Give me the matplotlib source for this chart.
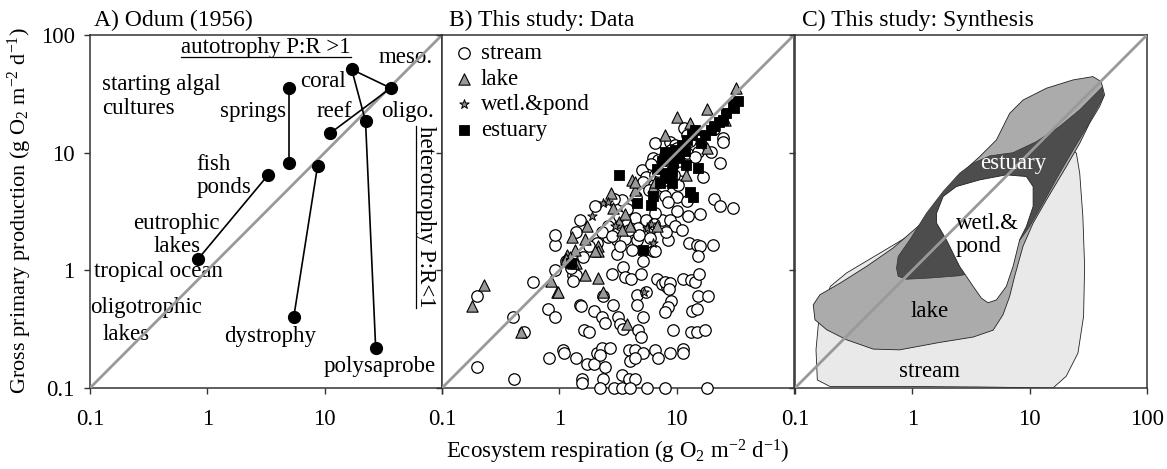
import numpy as np
import matplotlib
matplotlib.use("Agg")
import matplotlib.pyplot as plt
from matplotlib.lines import Line2D

plt.rcParams["font.family"] = ["Liberation Serif", "DejaVu Serif"]
plt.rcParams["mathtext.fontset"] = "custom"
plt.rcParams["mathtext.rm"] = "Liberation Serif"
plt.rcParams["mathtext.it"] = "Liberation Serif:italic"
FS = 16.5

# ---- Panel A: Odum (1956) ----
odum_lines = [
    ([4.94, 4.94], [35.4, 8.1]),                    # springs
    ([3.27, 0.83], [6.4, 1.24]),                    # fish ponds -> eutrophic lakes
    ([8.7, 5.45], [7.7, 0.4]),                      # dystrophy
    ([11.2, 36.5, 17.0, 22.3, 27.2], [14.7, 35.4, 51.0, 18.5, 0.22]),  # coral reef / meso / oligo / polysaprobe
]

# ---- Panel B: data ----
stream_x = [0.92, 0.92, 0.92, 0.6, 0.2, 0.4, 0.8, 0.92, 0.5, 0.81, 0.2, 0.41,
            2.6, 3.1, 3.1, 3.6, 4.6, 6.3, 5.2, 1.3, 1.4, 1.3, 2.8, 3.5, 3.6, 4.1, 4.95,
            6.8, 7.5, 8.3, 2.35, 4.6, 5.5, 1.5, 1.97, 2.85, 2.3, 2.45, 3.15, 3.3, 3.5,
            4.6, 5.2, 4.7, 4.95, 1.62, 1.8, 1.07, 1.38, 1.73, 1.97, 2.45, 2.1, 2.3, 2.7,
            2.2, 3.9, 4.4, 5.15, 4.0, 4.4, 6.5, 7.0, 1.55, 1.55, 2.35, 3.4, 3.9, 4.4,
            2.2, 2.9, 3.4, 4.0, 5.6, 7.9, 18.0, 4.2, 6.5, 1.1, 1.52,
            8.4, 12.7, 14.9, 15.9, 20.4, 15.2, 7.9, 8.7, 8.6, 11.3, 13.2, 14.3, 15.5,
            15.2, 18.5, 8.9, 8.4, 7.9, 13.5, 14.9, 9.3, 13.2, 14.9, 17.3, 8.8, 11.3, 11.3,
            6.6, 6.3, 6.9, 5.06, 5.5, 5.2, 6.5, 7.5, 3.4, 2.9, 2.0, 1.5, 1.4, 4.4, 4.7,
            5.5, 6.1, 7.5, 6.5, 3.6, 3.9, 7.7, 7.9,
            11.5, 20.8, 25.0, 25.0, 8.7, 9.6, 12.2, 15.2, 19.8, 14.3, 7.9, 23.6, 11.0,
            16.9, 10.2, 7.9, 10.0, 12.2, 8.4, 21.0, 23.5, 30.5, 10.0, 12.4, 15.8, 8.8, 9.6,
            9.0, 10.5, 8.2, 13.0, 6.0, 7.0, 9.5, 5.8, 4.5, 3.8, 3.2, 2.6, 2.3, 2.8, 2.1,
            1.8, 1.6, 3.3, 4.8, 5.9, 8.1, 6.4, 11.0, 1.15, 1.25, 12.2, 10.0]
stream_y = [1.64, 2.0, 1.0, 0.8, 0.6, 0.4, 0.47, 0.4, 0.3, 0.18, 0.15, 0.12,
            1.92, 1.8, 1.38, 1.85, 1.8, 1.46, 1.2, 0.91, 0.91, 0.81, 0.93, 1.07, 0.88, 0.84, 0.93,
            0.84, 0.77, 0.72, 0.6, 0.62, 0.66, 0.51, 0.45, 0.51, 0.4, 0.36, 0.4, 0.35, 0.32,
            0.51, 0.4, 0.31, 0.27, 0.31, 0.3, 0.21, 0.18, 0.16, 0.16, 0.15, 0.2, 0.22, 0.22,
            0.19, 0.21, 0.21, 0.2, 0.17, 0.18, 0.21, 0.18, 0.12, 0.11, 0.12, 0.13, 0.12, 0.12,
            0.1, 0.1, 0.1, 0.1, 0.1, 0.1, 0.1, 1.5, 1.45, 0.2, 0.5,
            1.8, 1.7, 1.65, 1.6, 1.65, 1.32, 0.8, 0.78, 0.7, 0.85, 0.82, 0.8, 0.93,
            0.6, 0.61, 0.55, 0.49, 0.44, 0.45, 0.47, 0.31, 0.3, 0.3, 0.31, 0.2, 0.215, 0.2,
            12.1, 9.0, 8.7, 7.1, 6.2, 5.6, 6.5, 5.9, 3.98, 4.05, 3.5, 2.7, 2.1, 2.8, 2.3,
            2.7, 2.3, 2.7, 3.1, 2.6, 2.2, 5.2, 4.3,
            16.2, 15.9, 13.3, 12.3, 12.3, 11.6, 10.0, 10.2, 10.2, 9.2, 9.6, 8.2, 7.1,
            6.2, 5.3, 5.9, 4.2, 3.9, 3.8, 4.0, 3.5, 3.4, 3.2, 2.9, 3.0, 2.7, 2.4,
            10.5, 8.5, 7.5, 12.5, 8.0, 7.0, 6.5, 4.8, 4.2, 3.3, 2.9, 2.4, 2.1, 1.95, 1.7,
            1.6, 1.3, 1.6, 2.0, 1.9, 2.1, 2.5, 2.2, 1.2, 1.05, 14.0, 11.0]

lake_x = [0.85, 0.95, 0.23, 0.18, 0.47, 1.28, 1.65, 1.16, 1.37, 1.39, 2.15, 2.15, 2.0,
          1.65, 2.15, 0.97, 2.35, 3.75, 7.9, 4.15, 4.4, 2.75, 2.85, 1.72, 31.9, 18.2,
          10.0, 12.9, 18.2, 12.0, 3.2, 3.6, 4.0, 3.4, 6.8, 1.23, 1.3, 1.15, 26.0, 6.3,
          4.4, 6.5]
lake_y = [0.81, 0.66, 0.75, 0.5, 0.3, 1.92, 1.85, 1.35, 1.5, 1.16, 1.6, 1.45, 1.45,
          0.91, 0.86, 0.66, 0.66, 0.35, 14.1, 5.9, 4.8, 4.5, 3.4, 2.4, 35.5, 23.5,
          20.0, 17.8, 11.0, 6.4, 2.6, 3.0, 2.4, 2.2, 2.4, 1.3, 1.15, 1.25, 19.0, 5.1,
          5.6, 5.6]

wetl_x = [2.35, 1.9, 2.6, 5.6, 6.1, 6.3, 5.3, 3.0]
wetl_y = [3.7, 2.9, 3.8, 2.3, 2.5, 1.7, 0.65, 2.4]

estuary_x = [3.2, 4.6, 6.3, 5.15, 1.25, 33.6, 31.0, 26.5, 23.0, 19.8, 17.5, 14.3, 13.4,
             12.2, 11.0, 9.6, 8.7, 9.3, 12.0, 15.2, 9.1, 7.9, 12.9, 13.8, 8.8, 9.1, 30.0,
             25.0, 21.0, 16.0, 10.5, 7.5, 8.0, 11.8, 6.8, 7.2, 6.0]
estuary_y = [6.5, 3.7, 4.3, 1.49, 1.15, 27.5, 24.0, 21.7, 18.2, 15.6, 14.2, 15.5, 14.2,
             12.9, 11.6, 10.6, 9.6, 8.1, 7.8, 7.4, 6.8, 6.7, 4.6, 4.2, 6.1, 5.5, 26.0,
             19.0, 17.0, 12.0, 9.0, 8.5, 10.2, 10.3, 7.2, 5.5, 3.6]

# ---- Panel C: synthesis envelopes (x = ER, y = GPP) ----
stream_env_x = [0.158, 0.151, 0.155, 0.199, 1.02, 3.75, 15.8, 20.5, 25.8, 28.8, 29.4,
                28.4, 26.7, 25.0, 13.9, 3.75, 1.02, 0.275, 0.2]
stream_env_y = [0.345, 0.211, 0.117, 0.103, 0.103, 0.102, 0.1, 0.126, 0.198, 0.406,
                1.08, 2.87, 6.7, 9.9, 16.7, 7.6, 2.07, 0.95, 0.73]
lake_env_x = [0.143, 0.163, 0.242, 0.407, 0.687, 1.16, 1.71, 2.53, 3.75, 5.2, 6.76,
              8.78, 13.9, 23.4, 34.6, 40.7, 43.5, 39.4, 32.4, 26.7, 20.5, 13.9, 10.7,
              8.77, 7.45, 6.75, 5.93, 4.88, 3.3, 1.71, 0.78, 0.465, 0.275, 0.186, 0.148]
lake_env_y = [0.509, 0.62, 0.778, 1.08, 1.55, 2.44, 3.97, 6.48, 9.26, 12.8, 21.6,
              28.0, 35.3, 41.5, 44.3, 40.2, 31.0, 24.6, 17.8, 12.0, 7.6, 3.97, 2.52,
              1.6, 0.89, 0.6, 0.42, 0.31, 0.271, 0.244, 0.211, 0.214, 0.257, 0.313, 0.38]
est_env_x = [0.733, 0.757, 0.953, 1.32, 1.83, 2.53, 3.29, 4.57, 7.21, 11.4, 18.0, 26.7,
             35.8, 41.5, 42.6, 38.2, 30.3, 23.4, 18.0, 13.0, 10.0, 7.2, 4.28, 2.53,
             1.41, 0.89, 0.757]
est_env_y = [1.04, 1.31, 1.82, 3.06, 4.68, 6.69, 8.13, 9.39, 10.0, 12.4, 16.7, 23.1,
             31.0, 36.0, 29.9, 24.6, 16.1, 10.5, 6.69, 3.72, 2.36, 1.49, 1.01, 0.9,
             0.86, 0.84, 0.89]
wetl_env_x = [1.61, 1.83, 2.37, 3.75, 6.32, 9.37, 10.7, 10.7, 9.37, 8.22, 7.22, 6.32,
              5.2, 4.42, 3.88, 3.3, 2.53, 1.95, 1.61]
wetl_env_y = [3.06, 4.24, 5.15, 5.87, 6.48, 6.27, 5.15, 3.49, 2.36, 1.82, 1.08, 0.73,
              0.56, 0.53, 0.58, 0.73, 1.08, 1.82, 2.52]

ticks = [0.1, 1, 10, 100]

fig = plt.figure(figsize=(11.67, 4.69), dpi=100)
W, H = 1167, 469
axA = fig.add_axes([90 / W, 81 / H, 352 / W, 353 / H])
axB = fig.add_axes([442 / W, 81 / H, 352 / W, 353 / H])
axC = fig.add_axes([795 / W, 81 / H, 352 / W, 353 / H])

for ax in (axA, axB, axC):
    ax.set_xscale("log")
    ax.set_yscale("log")
    ax.set_xlim(0.1, 100)
    ax.set_ylim(0.1, 100)
    ax.set_xticks(ticks)
    ax.set_yticks(ticks)
    ax.minorticks_off()
    ax.tick_params(direction="out", length=4, width=1, color="#333333", labelsize=FS)
    ax.tick_params(axis="x", pad=11)
    ax.tick_params(axis="y", pad=7)
    for s in ax.spines.values():
        s.set_linewidth(1.1)
        s.set_color("#333333")
    ax.plot([0.1, 100], [0.1, 100], color="#999999", lw=2, zorder=5)

axA.set_xticklabels(["0.1", "1", "10", ""])
axB.set_xticklabels(["0.1", "1", "10", ""])
axC.set_xticklabels(["0.1", "1", "10", "100"])
axA.set_yticklabels(["0.1", "1", "10", "100"])
axB.set_yticklabels([])
axC.set_yticklabels([])

# Panel A
for xs, ys in odum_lines:
    axA.plot(xs, ys, color="black", lw=1.2, marker="o", ms=8.5, zorder=6)

tA = axA.text(3.16, 78, "autotrophy P:R >1", fontsize=FS, ha="center", va="center")
axA.text(29.0, 64, "meso.", fontsize=FS, va="center")
axA.text(0.126, 30, "starting algal\ncultures", fontsize=FS, va="center", linespacing=1.15)
axA.text(1.28, 22.5, "springs", fontsize=FS, va="center")
axA.text(6.15, 40, "coral", fontsize=FS, va="center")
axA.text(8.6, 22.5, "reef", fontsize=FS, va="center")
axA.text(30.2, 22.5, "oligo.", fontsize=FS, va="center")
axA.text(0.81, 6.3, "fish\nponds", fontsize=FS, va="center", linespacing=1.15)
axA.text(0.55, 2.0, "eutrophic\nlakes", fontsize=FS, va="center", ha="center", linespacing=1.15)
axA.text(0.108, 0.97, "tropical ocean", fontsize=FS, va="center")
axA.text(0.101, 0.48, "oligotrophic", fontsize=FS, va="center")
axA.text(0.128, 0.283, "lakes", fontsize=FS, va="center")
axA.text(3.45, 0.272, "dystrophy", fontsize=FS, va="center", ha="center")
axA.text(29.5, 0.152, "polysaprobe", fontsize=FS, va="center", ha="center")
tH = axA.text(73, 2.85, "heterotrophy P:R<1", fontsize=FS, rotation=-90,
              ha="center", va="center")
axA.text(0.01, 1.012, "A) Odum (1956)", transform=axA.transAxes, fontsize=FS + 0.5,
         ha="left", va="bottom")

# Panel B
axB.scatter(stream_x, stream_y, s=68, facecolor="white", edgecolor="black",
            linewidth=0.9, marker="o", zorder=3, label="stream", clip_on=False)
axB.scatter(lake_x, lake_y, s=66, facecolor="#999999", edgecolor="black",
            linewidth=0.8, marker="^", zorder=3, label="lake")
axB.scatter(wetl_x, wetl_y, s=50, facecolor="#888888", edgecolor="black",
            linewidth=0.7, marker="*", zorder=3, label="wetl.&pond")
axB.scatter(estuary_x, estuary_y, s=55, facecolor="black", edgecolor="black",
            linewidth=0.6, marker="s", zorder=4, label="estuary")
axB.legend(loc="upper left", frameon=False, fontsize=FS, handletextpad=0.15,
           labelspacing=0.2, borderpad=0.2, borderaxespad=0.15, handlelength=1.2,
           scatterpoints=1)
axB.text(0.02, 1.012, "B) This study: Data", transform=axB.transAxes, fontsize=FS + 0.5,
         ha="left", va="bottom")

# Panel C
axC.fill(stream_env_x, stream_env_y, facecolor="#e9e9e9", edgecolor="#222222",
         lw=0.6, zorder=1)
axC.fill(lake_env_x, lake_env_y, facecolor="#ababab", edgecolor="#222222",
         lw=0.6, zorder=2)
axC.fill(est_env_x, est_env_y, facecolor="#4d4d4d", edgecolor="#333333",
         lw=0.5, zorder=3)
axC.fill(wetl_env_x, wetl_env_y, facecolor="white", edgecolor="#222222",
         lw=0.6, zorder=4)
axC.text(7.2, 8.1, "estuary", color="white", fontsize=FS, ha="center", va="center", zorder=7)
axC.text(2.35, 2.0, "wetl.&\npond", fontsize=FS, ha="left", va="center", zorder=7,
         linespacing=1.15)
axC.text(1.41, 0.45, "lake", fontsize=FS, ha="center", va="center", zorder=7)
axC.text(1.41, 0.138, "stream", fontsize=FS, ha="center", va="center", zorder=7)
axC.text(0.02, 1.012, "C) This study: Synthesis", transform=axC.transAxes,
         fontsize=FS + 0.5, ha="left", va="bottom")

fig.text(618 / W, 1 - 452 / H, "Ecosystem respiration (g O$_2$ m$^{-2}$ d$^{-1}$)",
         fontsize=FS, ha="center", va="center")
fig.text(20 / W, 1 - 211 / H, "Gross primary production (g O$_2$ m$^{-2}$ d$^{-1}$)",
         fontsize=16, ha="center", va="center", rotation=90)

# underlines for the two annotation labels
fig.canvas.draw()
r = fig.canvas.get_renderer()
inv = fig.transFigure.inverted()
bb = tA.get_window_extent(r)
(x0, y0), (x1, _) = inv.transform([(bb.x0, bb.y0 + 1), (bb.x1, bb.y0 + 1)])
fig.add_artist(Line2D([x0, x1], [y0, y0], color="black", lw=0.9))
bb = tH.get_window_extent(r)
(x0, y0), (_, y1) = inv.transform([(bb.x0 + 1, bb.y0), (bb.x0 + 1, bb.y1)])
fig.add_artist(Line2D([x0, x0], [y0, y1], color="black", lw=0.9))

fig.savefig("out.png", dpi=100)
